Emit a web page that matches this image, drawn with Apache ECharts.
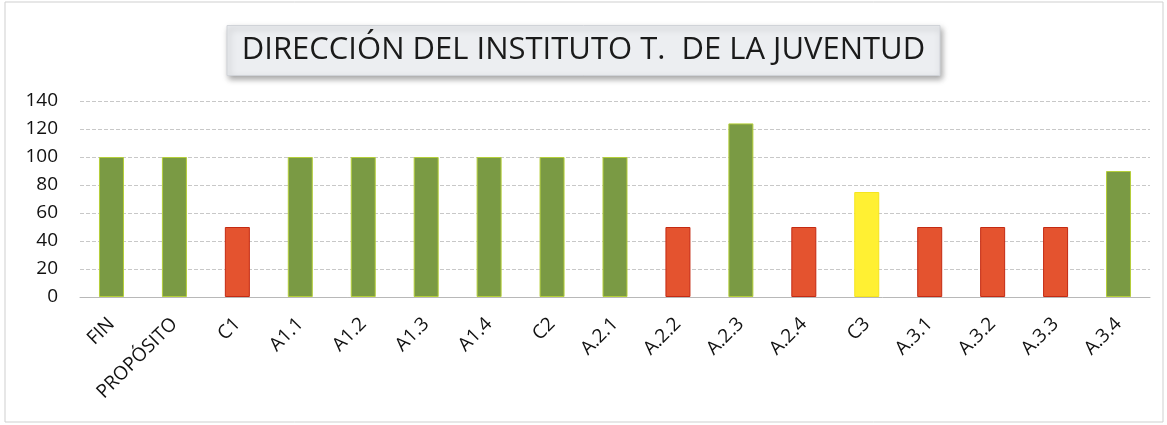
<!DOCTYPE html>
<html>
<head>
<meta charset="utf-8">
<script src="https://cdn.jsdelivr.net/npm/echarts@6/dist/echarts.min.js"></script>
<style>
  html, body { margin: 0; padding: 0; background: #fff; }
  #chart { width: 1167px; height: 425px; }
</style>
</head>
<body>
<div id="chart"></div>
<script>
var categories = ['FIN', 'PROPÓSITO', 'C1', 'A1.1', 'A1.2', 'A1.3', 'A1.4', 'C2', 'A.2.1', 'A.2.2', 'A.2.3', 'A.2.4', 'C3', 'A.3.1', 'A.3.2', 'A.3.3', 'A.3.4'];
var values = [100, 100, 50, 100, 100, 100, 100, 100, 100, 50, 124, 50, 75, 50, 50, 50, 90];
var barStatus = ['g', 'g', 'r', 'g', 'g', 'g', 'g', 'g', 'g', 'r', 'g', 'r', 'y', 'r', 'r', 'r', 'g'];

var fills = { g: '#7a9a44', r: '#e4532f', y: '#fff033' };
var edges = { g: '#b5cf3a', r: '#c42a12', y: '#f5e51e' };

var myChart = echarts.init(document.getElementById('chart'));
var option = {
  animation: false,
  textStyle: { fontFamily: 'Open Sans' },
  title: {
    text: 'DIRECCIÓN DEL INSTITUTO T.  DE LA JUVENTUD',
    left: 'center',
    top: 25,
    padding: [10, 15, 10, 15],
    backgroundColor: '#eceef1',
    borderColor: '#d0d3d8',
    borderWidth: 1,
    shadowColor: 'rgba(0,0,0,0.35)',
    shadowBlur: 6,
    shadowOffsetX: 2,
    shadowOffsetY: 3,
    textStyle: {
      fontFamily: 'Open Sans',
      fontWeight: 'normal',
      fontSize: 31,
      color: '#1a1a1a'
    }
  },
  grid: {
    left: 80,
    right: 17,
    top: 101,
    bottom: 128
  },
  xAxis: {
    type: 'category',
    data: categories,
    axisTick: { show: false },
    axisLine: { lineStyle: { color: '#b8b8b8' } },
    axisLabel: {
      rotate: 45,
      interval: 0,
      fontSize: 19,
      color: '#111',
      margin: 24
    }
  },
  yAxis: {
    type: 'value',
    min: 0,
    max: 140,
    interval: 20,
    axisLabel: { fontSize: 19, color: '#111', margin: 22 },
    axisLine: { show: false },
    axisTick: { show: false },
    splitLine: { lineStyle: { color: '#c8c8c8', type: 'dashed', width: 1 } }
  },
  series: [{
    type: 'bar',
    barWidth: 25,
    data: values.map(function (v, i) {
      return {
        value: v,
        itemStyle: {
          color: fills[barStatus[i]],
          borderColor: edges[barStatus[i]],
          borderWidth: 1
        }
      };
    })
  }],
  graphic: [{
    type: 'rect',
    shape: { x: 5, y: 2, width: 1158, height: 420 },
    style: { fill: 'none', stroke: '#cfcfcf', lineWidth: 1 },
    silent: true
  }]
};
myChart.setOption(option);
</script>
</body>
</html>
